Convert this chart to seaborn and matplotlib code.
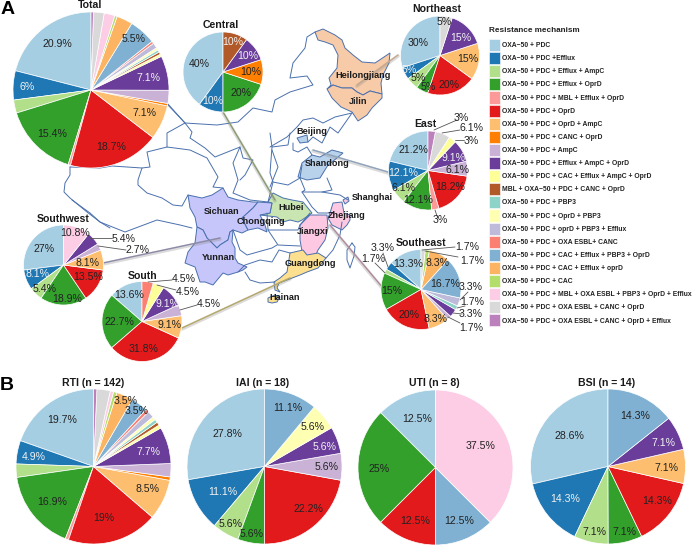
import matplotlib
matplotlib.use("Agg")
import matplotlib.pyplot as plt
from matplotlib.patches import Patch, Polygon
import seaborn as sns

sns.set_theme(style="white")
plt.rcParams['font.family'] = ['Liberation Sans', 'DejaVu Sans']

mechanisms = ['OXA\u221250 + PDC', 'OXA\u221250 + PDC +Efflux', 'OXA\u221250 + PDC + Efflux + AmpC',
              'OXA\u221250 + PDC + Efflux + OprD', 'OXA\u221250 + PDC + MBL + Efflux + OprD',
              'OXA\u221250 + PDC + OprD', 'OXA\u221250 + PDC + OprD + AmpC', 'OXA\u221250 + PDC + CANC + OprD',
              'OXA\u221250 + PDC + AmpC', 'OXA\u221250 + PDC + Efflux + AmpC + OprD',
              'OXA\u221250 + PDC + CAC + Efflux + AmpC + OprD', 'MBL + OXA\u221250 + PDC + CANC + OprD',
              'OXA\u221250 + PDC + PBP3', 'OXA\u221250 + PDC + OprD + PBP3', 'OXA\u221250 + PDC + oprD + PBP3 + Efflux',
              'OXA\u221250 + PDC + OXA ESBL+ CANC', 'OXA\u221250 + PDC + CAC + Efflux + PBP3 + OprD',
              'OXA\u221250 + PDC + CAC + Efflux + oprD', 'OXA\u221250 + PDC + CAC',
              'OXA\u221250 + PDC + MBL + OXA ESBL + PBP3 + OprD + Efflux', 'OXA\u221250 + PDC + OXA ESBL + CANC + OprD',
              'OXA\u221250 + PDC + OXA ESBL + CANC + OprD + Efflux']

# percent per mechanism, same order as the legend
total = [20.9, 6, 2.7, 15.4, .5, 18.7, 7.1, .5, 2.7, 7.1, .5, .5, .5, .5, 1.1, .5, 5.5, 3.3, .5, 2.2, 2.2, .5]
central = [40, 10, 0, 20, 0, 0, 0, 10, 0, 10, 0, 10, 0, 0, 0, 0, 0, 0, 0, 0, 0, 0]
northeast = [30, 5, 5, 5, 0, 20, 15, 0, 0, 15, 0, 0, 0, 0, 0, 0, 0, 0, 0, 0, 5, 0]
east = [21.2, 12.1, 6.1, 12.1, 3, 18.2, 0, 0, 6.1, 9.1, 3, 0, 0, 0, 0, 0, 0, 0, 0, 0, 6.1, 3]
southeast = [13.3, 3.3, 1.7, 15, 0, 20, 8.3, 0, 1.7, 3.3, 0, 0, 1.7, 0, 3.3, 0, 16.7, 8.3, 1.7, 0, 1.7, 0]
southwest = [27, 8.1, 5.4, 18.9, 0, 13.5, 8.1, 0, 2.7, 5.4, 0, 0, 0, 0, 0, 0, 0, 0, 0, 10.8, 0, 0]
south = [13.6, 0, 0, 22.7, 0, 31.8, 9.1, 0, 4.5, 9.1, 4.5, 0, 0, 0, 0, 4.5, 0, 0, 0, 0, 0, 0]
rti = [19.7, 4.9, 2.8, 16.9, .7, 19, 8.5, .7, 2.8, 7.7, .7, .7, .7, .7, 1.4, .7, 3.5, 3.5, .7, .7, 2.8, .7]
iai = [27.8, 11.1, 5.6, 5.6, 0, 22.2, 0, 0, 5.6, 5.6, 0, 0, 0, 5.6, 0, 0, 11.1, 0, 0, 0, 0, 0]
uti = [12.5, 0, 0, 25, 0, 12.5, 0, 0, 0, 0, 0, 0, 0, 0, 0, 0, 12.5, 0, 0, 37.5, 0, 0]
bsi = [28.6, 14.3, 7.1, 7.1, 0, 14.3, 7.1, 0, 0, 7.1, 0, 0, 0, 0, 0, 0, 14.3, 0, 0, 0, 0, 0]

colors = sns.color_palette("Paired", 12) + sns.color_palette("Set3", 10)
white_text = [1, 9, 11]

# pixel layout: values, title, title pos, centre, radius, {slice: label pos}, leader lines
pies = [
    (total, 'Total', (90, 5), (91, 90), 78,
     {0: (57, 44), 16: (134, 39), 9: (148, 78), 6: (144, 113), 5: (111, 147), 3: (52, 134), 1: (27, 87)}, []),
    (central, 'Central', (221, 25), (223, 72), 40,
     {0: (199, 64), 11: (233, 42), 9: (248, 56), 7: (251, 72), 3: (241, 93), 1: (213, 101)}, []),
    (northeast, 'Northeast', (437, 9), (440, 55.5), 39.5,
     {0: (418, 43), 20: (444, 22), 9: (461, 38), 6: (468, 59), 5: (449, 85), 3: (428, 87), 2: (418, 78), 1: (409, 70)}, []),
    (east, 'East', (425, 124), (428, 170.5), 39.5,
     {0: (413, 150), 9: (454, 158), 8: (457, 170), 5: (450, 187), 3: (418, 200), 2: (404, 188), 1: (403, 173),
      21: (461, 118), 20: (471, 128), 10: (471, 141), 4: (440, 220)},
     [(434, 130, 457, 120), (442, 133, 460, 130), (455, 140, 464, 140), (435, 210, 437, 216)]),
    (southeast, 'Southeast', (421, 243), (421, 289.5), 40,
     {0: (408, 264), 17: (437, 263), 16: (445, 284), 3: (392, 291), 5: (409, 315), 6: (436, 319),
      1: (383, 248), 2: (373, 259), 20: (467, 247), 18: (472, 261), 14: (471, 287), 12: (472, 302),
      9: (471, 314), 8: (471, 328)},
     [(388, 267, 383, 253), (385, 273, 375, 263), (422, 250, 455, 247), (425, 251, 458, 257),
      (460, 300, 468, 292), (457, 308, 465, 306), (453, 313, 462, 314), (448, 317, 460, 323)]),
    (southwest, 'Southwest', (63, 219), (63.5, 265), 40,
     {0: (44, 249), 19: (75, 233), 9: (124, 239), 8: (138, 250), 6: (88, 263), 5: (88, 277), 3: (67, 299),
      2: (45, 289), 1: (38, 274)},
     [(89, 238, 112, 238), (98, 246, 126, 250)]),
    (south, 'South', (143, 276), (142, 321.5), 40,
     {0: (129, 295), 15: (184, 279), 10: (188, 292), 9: (167, 304), 8: (209, 304), 6: (170, 325), 5: (144, 349),
      3: (119, 322)},
     [(148, 282, 172, 280), (157, 285, 176, 290), (180, 310, 197, 305)]),
    (rti, 'RTI (n = 142)', (93, 383), (93.5, 466.5), 77.5,
     {0: (62, 420), 17: (126, 401), 16: (137, 411), 9: (148, 452), 6: (148, 489), 5: (104, 518), 3: (52, 502), 1: (34, 457)}, []),
    (iai, 'IAI (n = 18)', (263, 383), (264.5, 466.5), 77.5,
     {0: (227, 434), 16: (288, 408), 13: (313, 427), 9: (325, 447), 8: (327, 467), 5: (308, 509), 3: (252, 534),
      2: (231, 524), 1: (223, 492)}, []),
    (uti, 'UTI (n = 8)', (434, 383), (435.5, 467.5), 77.5,
     {0: (417, 419), 19: (481, 446), 16: (459, 521), 5: (415, 521), 3: (379, 469)}, []),
    (bsi, 'BSI (n = 14)', (607, 383), (608, 466.5), 77.5,
     {0: (569, 436), 16: (635, 416), 9: (663, 443), 6: (666, 468), 5: (657, 501), 3: (624, 532), 2: (594, 532), 1: (565, 499)}, []),
]

# traced province shapes, picture pixels
provinces = {
    'Heilongjiang': ('#f8cba8', [(315, 32), (323, 29), (335, 35), (342, 40), (345, 48), (353, 55), (362, 62), (375, 63),
                                 (390, 53), (389, 63), (383, 75), (381, 83), (382, 94), (370, 91), (363, 95), (357, 92),
                                 (352, 88), (342, 88), (333, 85), (327, 89), (331, 85), (329, 78), (337, 68), (338, 55),
                                 (333, 45), (325, 42), (318, 40)]),
    'Jilin': ('#f8cba8', [(327, 89), (332, 98), (341, 107), (352, 112), (358, 121), (367, 115), (372, 108), (382, 98),
                          (382, 94), (370, 91), (363, 95), (357, 92), (352, 88), (342, 88), (333, 85)]),
    'Beijing': ('#b8d2ec', [(297, 138), (307, 135), (308, 142), (300, 143)]),
    'Shandong': ('#b8d2ec', [(298, 177), (302, 163), (312, 155), (320, 157), (332, 150), (343, 153), (337, 158),
                             (328, 165), (320, 178), (307, 180)]),
    'Hubei': ('#c9e6b2', [(268, 202), (273, 193), (283, 198), (292, 200), (303, 202), (312, 213), (302, 220), (298, 222),
                          (290, 220), (283, 222), (277, 217), (260, 215), (270, 213), (272, 203)]),
    'Sichuan': ('#c6c6fb', [(188, 195), (202, 198), (212, 195), (223, 188), (228, 197), (238, 200), (253, 202), (258, 202),
                            (253, 208), (242, 218), (248, 230), (242, 233), (233, 230), (230, 232), (228, 240), (220, 245),
                            (217, 248), (207, 238), (203, 230), (197, 227), (195, 217), (190, 208)]),
    'Yunnan': ('#c6c6fb', [(197, 227), (203, 230), (207, 238), (217, 248), (220, 245), (228, 240), (230, 232), (233, 230),
                           (232, 242), (235, 248), (235, 258), (238, 263), (247, 267), (243, 270), (238, 272), (228, 275),
                           (223, 273), (213, 285), (205, 282), (200, 282), (195, 267), (185, 263), (188, 252), (195, 243)]),
    'Chongqing': ('#c6c6fb', [(242, 218), (253, 208), (258, 202), (272, 203), (270, 213), (260, 215), (265, 225), (267, 232),
                              (258, 228), (248, 230)]),
    'Jiangxi': ('#fcc8e2', [(300, 225), (310, 215), (327, 215), (328, 228), (325, 240), (318, 250), (315, 257), (303, 257),
                            (300, 240)]),
    'Zhejiang': ('#fcc8e2', [(330, 213), (333, 203), (342, 202), (344, 213), (350, 215), (350, 220), (347, 225), (342, 230),
                             (332, 225), (328, 218)]),
    'Shanghai': ('#fcc8e2', [(343, 200), (348, 197), (349, 201), (345, 204)]),
    'Guangdong': ('#fde08f', [(290, 253), (303, 250), (307, 255), (318, 253), (326, 258), (318, 268), (307, 272), (300, 275),
                              (287, 280), (279, 283), (277, 288), (280, 292), (275, 290), (274, 282), (280, 278), (287, 272)]),
    'Hainan': ('#fde08f', [(268, 298), (275, 295), (280, 297), (277, 302), (272, 303), (268, 302)]),
}

borders = [
    [(315, 32), (307, 37), (305, 48), (293, 63), (290, 78), (307, 76), (313, 85), (290, 92), (275, 100), (272, 112),
     (253, 108), (238, 122), (217, 125), (185, 123), (168, 105)],
    [(167, 103), (185, 123), (167, 133), (167, 147), (147, 152), (150, 167), (142, 168), (138, 180), (138, 185), (147, 193),
     (162, 198), (173, 205), (182, 206), (188, 195)],
    [(167, 147), (190, 150), (207, 158), (218, 177), (213, 187), (223, 188)],
    [(70, 167), (100, 168), (112, 166), (142, 168)],
    [(70, 167), (70, 175), (65, 183), (64, 192), (70, 198), (87, 212), (100, 222), (110, 228)],
    [(72, 200), (90, 213), (100, 222), (125, 232), (157, 220), (180, 225), (192, 228)],
    [(185, 123), (192, 132), (190, 138), (205, 148), (215, 157), (240, 147), (243, 158), (253, 160), (245, 175), (240, 180)],
    [(240, 147), (233, 163), (238, 180), (233, 193), (250, 200), (268, 202)],
    [(270, 133), (272, 147), (270, 173), (273, 182), (268, 202)],
    [(270, 147), (287, 137), (297, 127), (303, 120), (313, 118), (323, 123), (335, 117), (352, 113)],
    [(352, 113), (338, 133), (330, 127), (322, 143), (313, 137), (308, 142)],
    [(290, 133), (288, 145), (272, 147)],
    [(293, 143), (293, 150), (298, 152), (307, 147), (312, 155)],
    [(272, 150), (278, 167), (270, 187)],
    [(273, 182), (288, 185), (300, 178), (302, 165)],
    [(300, 178), (305, 190), (302, 192), (322, 192), (332, 190), (327, 178)],
    [(302, 192), (312, 207), (318, 213), (330, 213)],
    [(322, 192), (340, 195), (348, 200)],
    [(342, 222), (340, 235), (333, 250), (326, 258)],
    [(310, 213), (300, 225)],
    [(267, 213), (268, 230), (298, 230), (300, 225)],
    [(268, 230), (278, 245), (300, 246)],
    [(238, 272), (245, 265), (260, 260), (272, 262), (279, 250), (290, 253)],
    [(245, 272), (250, 280), (260, 283), (275, 282)],
    [(233, 230), (240, 250), (247, 255), (272, 248), (277, 245)],
    [(352, 243), (355, 247), (354, 256), (350, 268), (347, 260), (347, 250), (352, 243)],
]

# region pie to province connectors
connectors = [
    ('#8a9b72', (223, 112), (275, 200)),
    ('#c8a88c', (398, 55), (357, 85)),
    ('#8fa3bd', (388, 172), (313, 150)),
    ('#b08a9a', (383, 288), (330, 225)),
    ('#8d8aa8', (103, 263), (220, 238)),
    ('#b5a866', (182, 328), (290, 278)),
]

province_labels = {
    'Heilongjiang': (363, 76), 'Jilin': (358, 102), 'Beijing': (312, 132), 'Shandong': (327, 163),
    'Shanghai': (372, 197), 'Hubei': (291, 207), 'Zhejiang': (347, 216), 'Sichuan': (222, 211),
    'Chongqing': (261, 221), 'Jiangxi': (313, 231), 'Yunnan': (218, 258), 'Guangdong': (310, 263),
    'Hainan': (285, 297),
}

W, H = 696, 546


def Y(y):
    return H - y


fig = plt.figure(figsize=(W / 100, H / 100), dpi=100)
ax = fig.add_axes([0, 0, 1, 1])

for name, (col, pts) in provinces.items():
    ax.add_patch(Polygon([(x, Y(y)) for x, y in pts], closed=True, facecolor=col,
                         edgecolor='#4a70ad', linewidth=0.7, zorder=1))
for line in borders:
    ax.plot([p[0] for p in line], [Y(p[1]) for p in line], color='#4a70ad', linewidth=0.7, zorder=1)

for col, a, b in connectors:
    ax.plot([a[0], b[0]], [Y(a[1]) - 1, Y(b[1]) - 1], color='#888888', alpha=0.3, linewidth=2.5, zorder=2)
    ax.plot([a[0], b[0]], [Y(a[1]), Y(b[1])], color=col, linewidth=1.0, zorder=2)

for name, (x, y) in province_labels.items():
    ax.text(x, Y(y), name, fontsize=6.6, fontweight='bold', color='#1a1a1a', ha='center', va='center', zorder=3)

for values, title, tpos, centre, r, labels, leaders in pies:
    # empty slices would leave a stray white edge
    keep = [i for i, v in enumerate(values) if v > 0]
    ax.pie([values[i] for i in keep], colors=[colors[i] for i in keep], startangle=90,
           center=(centre[0], Y(centre[1])), radius=r, frame=True,
           wedgeprops=dict(edgecolor='white', linewidth=0.5, zorder=4))
    ax.text(tpos[0], Y(tpos[1]), title, fontsize=7.6, fontweight='bold', color='#1a1a1a',
            ha='center', va='center', zorder=6)
    for x0, y0, x1, y1 in leaders:
        ax.plot([x0, x1], [Y(y0), Y(y1)], color='#555555', linewidth=0.6, zorder=5)
    for i, (x, y) in labels.items():
        inside = (x - centre[0]) ** 2 + (y - centre[1]) ** 2 < r ** 2
        ax.text(x, Y(y), f"{values[i]:g}%", fontsize=7.6, ha='center', va='center', zorder=6,
                color='#f2f2f2' if i in white_text and inside else '#222222')

ax.text(8, Y(9), 'A', fontsize=14, fontweight='bold', color='black', ha='center', va='center')
ax.text(7, Y(386), 'B', fontsize=14, fontweight='bold', color='black', ha='center', va='center')

handles = [Patch(facecolor=c, edgecolor='white', linewidth=0.4) for c in colors]
leg = ax.legend(handles, mechanisms, title='Resistance mechanism', loc='upper left',
                bbox_to_anchor=(489, Y(27)), bbox_transform=ax.transData, frameon=False,
                fontsize=4.85, title_fontsize=5.9, alignment='left', handlelength=1.65, handleheight=2.38,
                labelspacing=0.155, handletextpad=0.35, borderpad=0, borderaxespad=0)
leg._legend_box.sep = 3.6
leg.get_title().set_fontweight('bold')
leg.get_title().set_color('#222222')
for t in leg.get_texts():
    t.set_fontweight('bold')
    t.set_color('#222222')

ax.set_xlim(0, W)
ax.set_ylim(0, H)
ax.set_aspect('auto')
ax.axis('off')

fig.savefig('out.png', dpi=100)
